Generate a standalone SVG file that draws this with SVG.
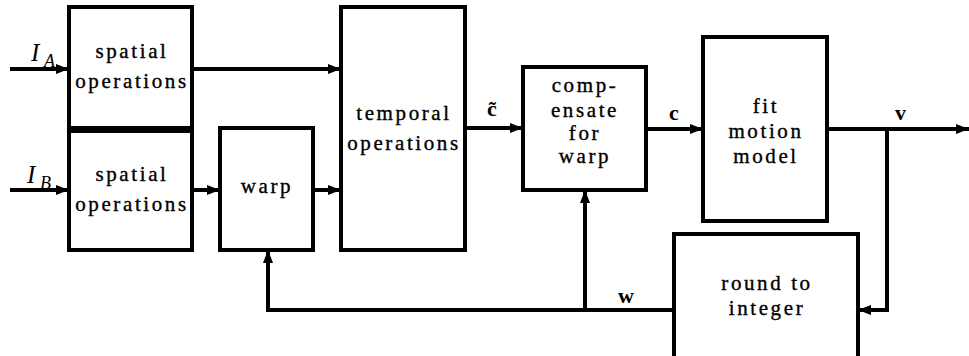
<svg xmlns="http://www.w3.org/2000/svg" width="969" height="356" viewBox="0 0 969 356">
<defs>
<marker id="ah" viewBox="0 0 13 10" refX="13" refY="5" markerWidth="13" markerHeight="10" markerUnits="userSpaceOnUse" orient="auto">
<path d="M0,0 L13,5 L0,10 Z" fill="#000"/>
</marker>
<style>
.box{fill:#fff;stroke:#000;stroke-width:4}
.ln{fill:none;stroke:#000;stroke-width:4}
.t{font-family:"Liberation Serif","Times New Roman",serif;font-size:21px;letter-spacing:2.6px;text-anchor:middle;fill:#000;stroke:#000;stroke-width:0.35}
.lb{font-family:"Liberation Serif","Times New Roman",serif;font-size:22px;font-weight:bold;fill:#000}
.it{font-family:"Liberation Serif","Times New Roman",serif;font-style:italic;fill:#000}
</style>
</defs>
<rect width="969" height="356" fill="#fff"/>
<g id="connectors">
<line class="ln" x1="10" y1="69" x2="69" y2="69" marker-end="url(#ah)"/>
<line class="ln" x1="10" y1="190" x2="69" y2="190" marker-end="url(#ah)"/>
<line class="ln" x1="192" y1="69" x2="341" y2="69" marker-end="url(#ah)"/>
<line class="ln" x1="192" y1="190" x2="220" y2="190" marker-end="url(#ah)"/>
<line class="ln" x1="313" y1="190" x2="341" y2="190" marker-end="url(#ah)"/>
<line class="ln" x1="465" y1="128" x2="523" y2="128" marker-end="url(#ah)"/>
<line class="ln" x1="646" y1="129" x2="703" y2="129" marker-end="url(#ah)"/>
<line class="ln" x1="827" y1="129" x2="969" y2="129" marker-end="url(#ah)"/>
<polyline class="ln" points="887,129 887,310 858,310" marker-end="url(#ah)"/>
<line class="ln" x1="674" y1="310" x2="266" y2="310"/>
<line class="ln" x1="268" y1="310" x2="268" y2="250" marker-end="url(#ah)"/>
<line class="ln" x1="585" y1="310" x2="585" y2="190" marker-end="url(#ah)"/>
</g>
<g id="labels">
<text class="it" x="31" y="61" font-size="25">I</text><text class="it" x="44" y="67" font-size="18">A</text>
<text class="it" x="27" y="183" font-size="25">I</text><text class="it" x="40" y="189" font-size="18">B</text>
<text class="lb" x="487" y="116">c̃</text>
<text class="lb" x="669" y="120">c</text>
<text class="lb" x="895" y="120">v</text>
<text class="lb" x="618" y="303">w</text>
</g>
<g id="spatialA">
<rect class="box" x="69" y="7" width="123" height="121"/>
<text class="t" x="132" y="58">spatial</text>
<text class="t" x="132" y="88">operations</text>
</g>
<g id="spatialB">
<rect class="box" x="69" y="131" width="123" height="119"/>
<text class="t" x="132" y="181">spatial</text>
<text class="t" x="132" y="211">operations</text>
</g>
<g id="warp">
<rect class="box" x="220" y="128" width="93" height="122"/>
<text class="t" x="267" y="193">warp</text>
</g>
<g id="temporal">
<rect class="box" x="341" y="7" width="124" height="243"/>
<text class="t" x="404" y="120">temporal</text>
<text class="t" x="404" y="150">operations</text>
</g>
<g id="compensate">
<rect class="box" x="523" y="67" width="123" height="123"/>
<text class="t" x="585" y="92">comp-</text>
<text class="t" x="585" y="117">ensate</text>
<text class="t" x="585" y="140">for</text>
<text class="t" x="585" y="163">warp</text>
</g>
<g id="fit">
<rect class="box" x="703" y="37" width="124" height="184"/>
<text class="t" x="766" y="113">fit</text>
<text class="t" x="766" y="138">motion</text>
<text class="t" x="766" y="163">model</text>
</g>
<g id="round">
<rect class="box" x="674" y="234" width="184" height="130"/>
<text class="t" x="767" y="290">round to</text>
<text class="t" x="767" y="315">integer</text>
</g>
</svg>
